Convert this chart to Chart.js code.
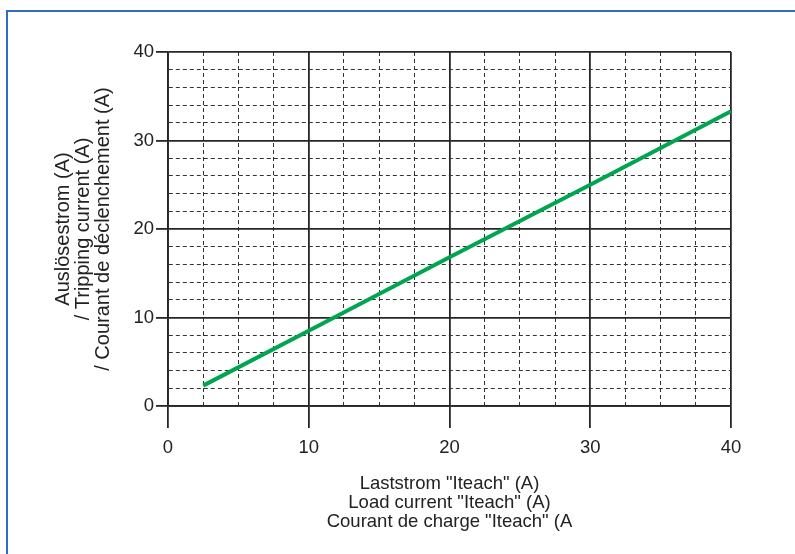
<!DOCTYPE html>
<html>
<head>
<meta charset="utf-8">
<script src="https://cdn.jsdelivr.net/npm/chart.js@4"></script>
<style>
  body { margin: 0; background: #fff; }
  #wrap { position: relative; width: 795px; height: 554px; overflow: hidden; }
  #frame { position: absolute; left: 6px; top: 10px; width: 900px; height: 700px;
           border-top: 2px solid #2f6cc2; border-left: 2px solid #2f6cc2; }
  #chart { position: absolute; left: 0; top: 0; }
</style>
</head>
<body>
<div id="wrap">
  <div id="frame"></div>
  <canvas id="chart" width="795" height="554"></canvas>
</div>
<script>
// load current (A) vs tripping current (A)
const loadCurrent = [2.5, 10, 20, 30, 40];
const trippingCurrent = [2.3, 8.5, 16.8, 25.0, 33.3];

const xTitle = ['Laststrom "Iteach" (A)', 'Load current "Iteach" (A)', 'Courant de charge "Iteach" (A'];
const yTitle = ['Auslösestrom (A)', '/ Tripping current (A)', '/ Courant de déclenchement (A)'];

const FONT = '"Liberation Sans", Arial, sans-serif';
const DARK = '#262626';

const isMajor = ctx => ctx.tick && ctx.tick.value % 10 === 0;

const points = loadCurrent.map((x, i) => ({ x, y: trippingCurrent[i] }));

new Chart(document.getElementById('chart'), {
  type: 'scatter',
  data: {
    datasets: [{
      data: points,
      showLine: true,
      borderColor: '#00a550',
      borderWidth: 4,
      pointRadius: 0,
      fill: false
    }]
  },
  options: {
    responsive: false,
    animation: false,
    layout: { padding: { left: 0, top: 52, right: 64, bottom: 10 } },
    plugins: { legend: { display: false }, tooltip: { enabled: false } },
    scales: {
      x: {
        type: 'linear',
        min: 0, max: 40,
        afterFit: s => { s.height = 138; },
        ticks: {
          stepSize: 2.5,
          autoSkip: false,
          maxRotation: 0,
          padding: 9,
          color: '#222',
          font: { family: FONT, size: 18.5 },
          callback: v => (v % 10 === 0 ? v : '')
        },
        grid: {
          color: ctx => isMajor(ctx) ? DARK : '#333',
          lineWidth: ctx => isMajor(ctx) ? 1.8 : 1,
          tickLength: 22,
          tickColor: ctx => isMajor(ctx) ? DARK : 'rgba(0,0,0,0)',
          tickWidth: 1.8
        },
        border: {
          color: DARK, width: 1.8,
          dash: ctx => (ctx.tick && ctx.tick.value % 10 !== 0) ? [4, 3] : []
        },
        title: {
          display: true,
          text: xTitle,
          color: '#222',
          font: { family: FONT, size: 18.5, lineHeight: 1.05 },
          padding: { top: 0, bottom: 12 }
        }
      },
      y: {
        type: 'linear',
        min: 0, max: 40,
        afterFit: s => { s.width = 168; },
        ticks: {
          stepSize: 2,
          autoSkip: false,
          padding: 2,
          color: '#222',
          font: { family: FONT, size: 18.5 },
          callback: v => (v % 10 === 0 ? v : '')
        },
        grid: {
          color: ctx => isMajor(ctx) ? DARK : '#333',
          lineWidth: ctx => isMajor(ctx) ? 1.8 : 1,
          tickLength: 12,
          tickColor: ctx => isMajor(ctx) ? DARK : 'rgba(0,0,0,0)',
          tickWidth: 1.8
        },
        border: {
          color: DARK, width: 1.8,
          dash: ctx => (ctx.tick && ctx.tick.value % 10 !== 0) ? [4, 3] : []
        },
        title: {
          display: true,
          text: yTitle,
          color: '#222',
          font: { family: FONT, size: 20, lineHeight: 0.98 },
          padding: { top: 54, bottom: 0 }
        }
      }
    }
  }
});
</script>
</body>
</html>
